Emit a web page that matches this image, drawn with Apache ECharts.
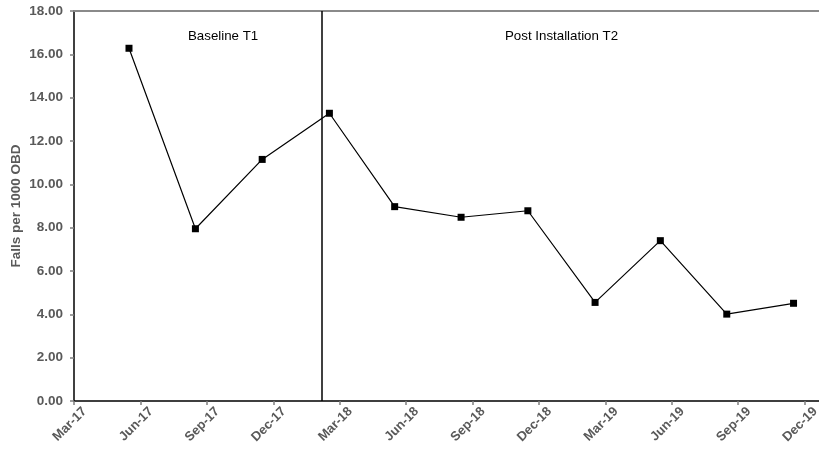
<!DOCTYPE html>
<html>
<head>
<meta charset="utf-8">
<script src="https://cdn.jsdelivr.net/npm/echarts@6/dist/echarts.min.js"></script>
<style>
html,body{margin:0;padding:0;background:#fff;}
#chart{width:819px;height:452px;}
</style>
</head>
<body>
<div id="chart"></div>
<script>
// ---- data ----
var tickLabels = ['Mar-17','Jun-17','Sep-17','Dec-17','Mar-18','Jun-18','Sep-18','Dec-18','Mar-19','Jun-19','Sep-19','Dec-19'];
var periodDates = ['2017-05-16','2017-08-16','2017-11-16','2018-02-16','2018-05-16','2018-08-16','2018-11-16','2019-02-16','2019-05-16','2019-08-16','2019-11-16'];
var fallsRate = [16.28, 7.95, 11.15, 13.28, 8.97, 8.48, 8.78, 4.55, 7.40, 4.01, 4.51];
var installationDate = '2018-02-07';
var phaseLabels = ['Baseline T1', 'Post Installation T2'];
var yTitle = 'Falls per 1000 OBD';

// months elapsed since 1 Mar 2017
function monthIndex(s) {
  var p = s.split('-').map(Number);
  var y = p[0], m = p[1], d = p[2];
  var dim = new Date(y, m, 0).getDate();
  return (y - 2017) * 12 + (m - 3) + (d - 1) / dim;
}

var seriesData = periodDates.map(function (d, i) { return [monthIndex(d), fallsRate[i]]; });

var font = "'Liberation Sans', Arial, sans-serif";
var grey = '#595959';

var chart = echarts.init(document.getElementById('chart'), null, {renderer: 'canvas'});
chart.setOption({
  animation: false,
  backgroundColor: '#fff',
  grid: {left: 74, top: 11, right: 0, bottom: 51, containLabel: false, outerBoundsMode: 'none'},
  xAxis: [{
    type: 'value',
    min: 0,
    max: 33.65,
    interval: 3,
    axisLine: {show: true, lineStyle: {color: '#000', width: 1.5}},
    axisTick: {show: true, length: 4, lineStyle: {color: '#7f7f7f', width: 1.5}},
    splitLine: {show: false},
    axisLabel: {
      rotate: 45,
      margin: 19,
      padding: [0, -15, 0, 0],
      showMaxLabel: false,
      color: grey,
      fontFamily: font,
      fontWeight: 'bold',
      fontSize: 13,
      formatter: function (v) {
        var k = Math.round(v);
        if (Math.abs(v - k) > 1e-6 || k % 3 !== 0) return '';
        return tickLabels[k / 3] || '';
      }
    }
  }, {
    type: 'value',
    position: 'top',
    min: 0,
    max: 33.65,
    axisLine: {show: true, onZero: false, lineStyle: {color: '#8a8a8a', width: 2}},
    axisTick: {show: false},
    axisLabel: {show: false},
    splitLine: {show: false}
  }],
  yAxis: {
    type: 'value',
    min: 0,
    max: 18,
    interval: 2,
    name: yTitle,
    nameLocation: 'middle',
    nameMoveOverlap: false,
    nameGap: 51,
    nameTextStyle: {color: grey, fontFamily: font, fontWeight: 'bold', fontSize: 13.5},
    axisLine: {show: true, lineStyle: {color: '#000', width: 1.5}},
    axisTick: {show: true, length: 4, lineStyle: {color: '#7f7f7f', width: 1.5}},
    splitLine: {show: false},
    axisLabel: {
      margin: 11,
      color: grey,
      fontFamily: font,
      fontWeight: 'bold',
      fontSize: 13.5,
      formatter: function (v) { return v.toFixed(2); }
    }
  },
  series: [{
    type: 'line',
    data: seriesData,
    symbol: 'rect',
    symbolSize: 7,
    itemStyle: {color: '#000'},
    lineStyle: {color: '#000', width: 1.2},
    markLine: {
      silent: true,
      symbol: ['none', 'none'],
      label: {show: false},
      lineStyle: {color: '#000', width: 1.5, type: 'solid'},
      data: [{xAxis: monthIndex(installationDate)}]
    }
  }],
  graphic: [
    {type: 'text', left: 188, top: 30, style: {text: phaseLabels[0], fill: '#000', font: '13.3px ' + font}},
    {type: 'text', left: 505, top: 30, style: {text: phaseLabels[1], fill: '#000', font: '13.3px ' + font}}
  ]
});
</script>
</body>
</html>
